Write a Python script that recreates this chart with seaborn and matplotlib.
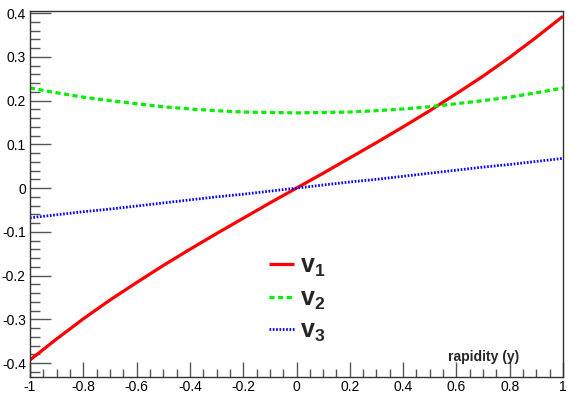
import numpy as np
import pandas as pd
import matplotlib
matplotlib.use("Agg")
import matplotlib.pyplot as plt
import seaborn as sns
from matplotlib.ticker import MultipleLocator

# ---- data ----
rapidity = [-1.0, -0.9, -0.8, -0.7, -0.6, -0.5, -0.4, -0.3, -0.2, -0.1, 0.0,
            0.1, 0.2, 0.3, 0.4, 0.5, 0.6, 0.7, 0.8, 0.9, 1.0]
v1 = [-0.393, -0.345, -0.299, -0.256, -0.216, -0.177, -0.140, -0.104, -0.069, -0.034, 0.0,
      0.034, 0.069, 0.104, 0.140, 0.177, 0.216, 0.256, 0.299, 0.345, 0.393]
v2 = [0.229, 0.218, 0.208, 0.200, 0.193, 0.186, 0.181, 0.177, 0.174, 0.173, 0.172,
      0.173, 0.174, 0.177, 0.181, 0.186, 0.193, 0.200, 0.208, 0.218, 0.229]
v3 = [-0.068, -0.061, -0.054, -0.048, -0.041, -0.034, -0.027, -0.020, -0.014, -0.007, 0.0,
      0.007, 0.014, 0.020, 0.027, 0.034, 0.041, 0.048, 0.054, 0.061, 0.068]
series_names = [r"$\mathbf{v_1}$", r"$\mathbf{v_2}$", r"$\mathbf{v_3}$"]
x_ticks = [-1, -0.8, -0.6, -0.4, -0.2, 0, 0.2, 0.4, 0.6, 0.8, 1]
x_tick_labels = ["-1", "-0.8", "-0.6", "-0.4", "-0.2", "0", "0.2", "0.4", "0.6", "0.8", "1"]
y_ticks = [-0.4, -0.3, -0.2, -0.1, 0, 0.1, 0.2, 0.3, 0.4]
y_tick_labels = ["-0.4", "-0.3", "-0.2", "-0.1", "0", "0.1", "0.2", "0.3", "0.4"]
x_title = "rapidity (y)"

df = pd.DataFrame({
    "rapidity": rapidity * 3,
    "value": v1 + v2 + v3,
    "series": [series_names[0]] * len(v1) + [series_names[1]] * len(v2) + [series_names[2]] * len(v3),
})

sns.set_style("white")
plt.rcParams["font.family"] = ["Liberation Sans", "DejaVu Sans"]
plt.rcParams["mathtext.fontset"] = "custom"
plt.rcParams["mathtext.rm"] = "Liberation Sans:bold"
plt.rcParams["mathtext.it"] = "Liberation Sans:bold"
plt.rcParams["mathtext.bf"] = "Liberation Sans:bold"

fig = plt.figure(figsize=(5.81, 3.94), dpi=100)
ax = fig.add_axes([30 / 581, 1 - 377 / 394, (563 - 30) / 581, (377 - 11) / 394])

colors = ["#ff0000", "#00ee00", "#0000ff"]
styles = [(0, ()), (0, (1.6, 1.1)), (0, (0.6, 0.6))]
widths = [2.3, 2.3, 2.0]
for name, c, ls, lw in zip(series_names, colors, styles, widths):
    sub = df[df["series"] == name]
    sns.lineplot(data=sub, x="rapidity", y="value", ax=ax, color=c,
                 linestyle=ls, linewidth=lw, label=name, sort=True)

ax.set_xlim(-1, 1)
ax.set_ylim(-0.432, 0.405)
ax.set_xticks(x_ticks)
ax.set_xticklabels(x_tick_labels)
ax.set_yticks(y_ticks)
ax.set_yticklabels(y_tick_labels)
ax.xaxis.set_minor_locator(MultipleLocator(0.05))
ax.yaxis.set_minor_locator(MultipleLocator(0.02))
ax.tick_params(axis="both", which="both", direction="in", colors="#555555",
               labelcolor="black", labelsize=10, top=False, right=False,
               bottom=True, left=True)
ax.tick_params(axis="y", which="major", length=15, width=1, pad=3)
ax.tick_params(axis="y", which="minor", length=7.5, width=1)
ax.tick_params(axis="x", which="major", length=11, width=1, pad=2)
ax.tick_params(axis="x", which="minor", length=5.5, width=1)
for s in ax.spines.values():
    s.set_color("#333333")
    s.set_linewidth(1.0)
    s.set_visible(True)

ax.set_xlabel("")
ax.set_ylabel("")
ax.text(0.918, 0.055, x_title, transform=ax.transAxes, ha="right", va="center",
        fontsize=10, fontweight="bold")

leg = ax.legend(loc="upper left", bbox_to_anchor=(0.43, 0.364), frameon=False,
                prop={"size": 18, "weight": "bold"}, handlelength=1.0,
                handletextpad=0.25, labelspacing=0.3, borderaxespad=0)

fig.savefig("out.png", dpi=100, facecolor="white")
